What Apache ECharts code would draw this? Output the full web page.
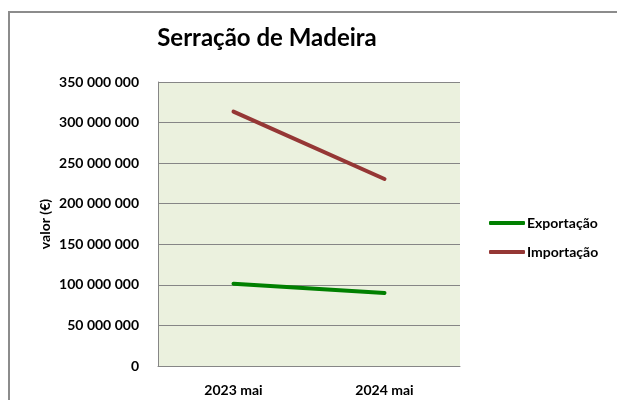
<!DOCTYPE html>
<html><head><meta charset="utf-8">
<script src="https://cdn.jsdelivr.net/npm/echarts@6/dist/echarts.min.js"></script>
<style>html,body{margin:0;padding:0;background:#fff}#c{width:617px;height:400px}</style>
</head><body><div id="c"></div>
<script>
const categories = ['2023 mai', '2024 mai'];
const exportacao = [101500000, 90000000];
const importacao = [313500000, 230500000];
const yTicks = [0, 50000000, 100000000, 150000000, 200000000, 250000000, 300000000, 350000000];

const FONT = 'Lato, "Open Sans", sans-serif';
const chart = echarts.init(document.getElementById('c'), null, {renderer: 'canvas'});
function fmt(v) { return String(v).replace(/\B(?=(\d{3})+(?!\d))/g, ' '); }
chart.setOption({
  animation: false,
  backgroundColor: '#fff',
  graphic: [
    {type: 'rect', shape: {x: 9, y: 12, width: 640, height: 400}, style: {fill: 'none', stroke: '#8c8c8c', lineWidth: 2}, silent: true},
    {type: 'text', x: 267, y: 38, style: {text: 'Serração de Madeira', align: 'center', verticalAlign: 'middle',
      font: 'bold 24px ' + FONT, fill: '#000'}, silent: true}
  ],
  grid: {left: 158, top: 82, width: 302, height: 284, show: true, backgroundColor: '#ebf1de', borderWidth: 0},
  legend: {orient: 'vertical', left: 484, top: 211, itemGap: 15, itemWidth: 36, itemHeight: 4,
    icon: 'roundRect',
    textStyle: {fontFamily: FONT, fontWeight: 'bold', fontSize: 14, color: '#000', padding: [0,0,0,-3]},
    data: ['Exportação', 'Importação']},
  xAxis: {type: 'category', data: categories, boundaryGap: true,
    axisLine: {lineStyle: {color: '#868686'}}, axisTick: {show: false},
    axisLabel: {fontFamily: FONT, fontWeight: 'bold', fontSize: 14, color: '#000', margin: 17}},
  yAxis: {type: 'value', min: 0, max: yTicks[yTicks.length-1], interval: yTicks[1]-yTicks[0],
    name: 'valor (€)', nameLocation: 'middle', nameGap: 106, nameRotate: 90,
    nameTextStyle: {fontFamily: FONT, fontWeight: 'bold', fontSize: 14, color: '#000'},
    axisLine: {show: true, lineStyle: {color: '#868686'}},
    axisTick: {show: false},
    splitLine: {lineStyle: {color: '#868686'}},
    axisLabel: {fontFamily: FONT, fontWeight: 'bold', fontSize: 14, color: '#000', margin: 19, formatter: fmt}},
  series: [
    {name: 'Exportação', type: 'line', data: exportacao, symbol: 'none', color: '#008000',
      lineStyle: {width: 4, color: '#008000', cap: 'round'}},
    {name: 'Importação', type: 'line', data: importacao, symbol: 'none', color: '#953735',
      lineStyle: {width: 4, color: '#953735', cap: 'round'}}
  ]
});
</script></body></html>
